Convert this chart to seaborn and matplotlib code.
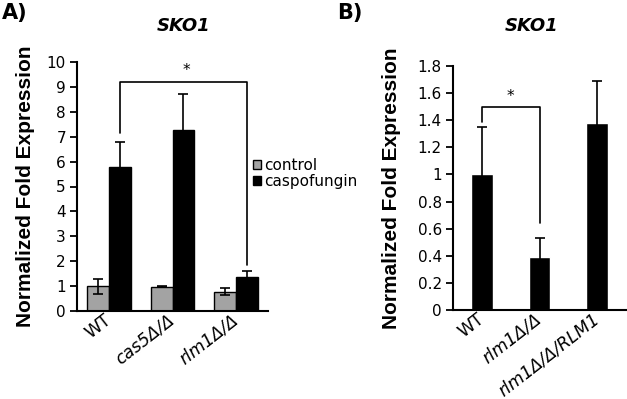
import matplotlib
matplotlib.use("Agg")
import matplotlib.pyplot as plt
import seaborn as sns
import pandas as pd
import numpy as np
from matplotlib.patches import Patch

# panel A data
strains_a = ["WT", "cas5Δ/Δ", "rlm1Δ/Δ"]
conditions = ["control", "caspofungin"]
control_vals = [1.0, 0.97, 0.78]
control_err = [0.30, 0.02, 0.14]
caspo_vals = [5.78, 7.28, 1.35]
caspo_err = [1.0, 1.42, 0.25]

# panel B data
strains_b = ["WT", "rlm1Δ/Δ", "rlm1Δ/Δ/RLM1"]
vals_b = [1.0, 0.39, 1.38]
err_b = [0.35, 0.14, 0.31]

# significance brackets (y values)
brk_a = (7.15, 9.2, 1.85)
brk_b = (1.39, 1.50, 0.64)

sns.set_style("ticks")
plt.rcParams['font.family'] = ['DejaVu Sans']
plt.rcParams['axes.linewidth'] = 1.5
plt.rcParams['axes.edgecolor'] = 'black'
plt.rcParams['xtick.color'] = 'black'
plt.rcParams['ytick.color'] = 'black'
plt.rcParams['text.color'] = 'black'
plt.rcParams['axes.labelcolor'] = 'black'

W, H = 627, 399
fig = plt.figure(figsize=(W / 100, H / 100), dpi=100)

def box(l, t, r, b):
    return [l / W, 1 - b / H, (r - l) / W, (b - t) / H]

axA = fig.add_axes(box(77, 62, 268, 311))
axB = fig.add_axes(box(453, 66, 626, 310))

dfA = pd.DataFrame({
    "strain": strains_a * 2,
    "condition": [conditions[0]] * 3 + [conditions[1]] * 3,
    "value": control_vals + caspo_vals,
})
sns.barplot(data=dfA, x="strain", y="value", hue="condition", order=strains_a,
            hue_order=conditions, palette={"control": "#a3a3a3", "caspofungin": "black"},
            width=0.69, edgecolor="black", linewidth=1, errorbar=None, ax=axA,
            legend=False, saturation=1)

for cont, errs in zip(axA.containers, [control_err, caspo_err]):
    xs = [p.get_x() + p.get_width() / 2 for p in cont]
    hs = [p.get_height() for p in cont]
    axA.errorbar(xs, hs, yerr=errs, fmt="none", ecolor="black", elinewidth=1.2,
                 capsize=3.5, capthick=1.2)

sns.barplot(x=strains_b, y=vals_b, color="black", width=0.38, errorbar=None,
            ax=axB, saturation=1)
xsB = [p.get_x() + p.get_width() / 2 for p in axB.patches]
axB.errorbar(xsB, vals_b, yerr=err_b, fmt="none", ecolor="black", elinewidth=1.2,
             capsize=3.5, capthick=1.2)

# brackets
xa0 = axA.containers[1][0].get_x() + axA.containers[1][0].get_width() / 2
xa1 = axA.containers[1][2].get_x() + axA.containers[1][2].get_width() / 2
axA.plot([xa0, xa0, xa1, xa1], [brk_a[0], brk_a[1], brk_a[1], brk_a[2]],
         color="black", lw=1.2, clip_on=False)
axA.text((xa0 + xa1) / 2 + 0.05, brk_a[1] + 0.15, "*", ha="center", va="bottom",
         fontsize=11)
axB.plot([xsB[0], xsB[0], xsB[1], xsB[1]], [brk_b[0], brk_b[1], brk_b[1], brk_b[2]],
         color="black", lw=1.2, clip_on=False)
axB.text((xsB[0] + xsB[1]) / 2, brk_b[1] + 0.02, "*", ha="center", va="bottom",
         fontsize=11)

for ax, top, step in [(axA, 10, 1), (axB, 1.8, 0.2)]:
    ax.set_ylim(0, top)
    ticks = np.round(np.arange(0, top + step / 2, step), 2)
    ax.set_yticks(ticks)
    ax.set_yticklabels([f"{t:g}" for t in ticks], fontsize=11)
    ax.tick_params(axis="y", direction="out", length=5, width=1.3, pad=3)
    ax.tick_params(axis="x", length=0, pad=5)
    ax.set_xlabel("")
    for s in ["top", "right"]:
        ax.spines[s].set_visible(False)
    for lab in ax.get_xticklabels():
        lab.set_rotation(38)
        lab.set_ha("right")
        lab.set_va("center")
        lab.set_rotation_mode("anchor")
        lab.set_fontsize(12.5)
        if lab.get_text() != "WT":
            lab.set_fontstyle("italic")
    ax.set_ylabel("Normalized Fold Expression", fontsize=15, fontweight="bold",
                  family=["Liberation Sans"])

axA.set_xlim(-0.5, 2.5)
axB.set_xlim(-0.5, 2.5)
axA.yaxis.set_label_coords(-0.22, 0.5)
axB.yaxis.set_label_coords(-0.30, 0.5)

# legend
handles = [Patch(facecolor="#a3a3a3", edgecolor="black", linewidth=1),
           Patch(facecolor="black", edgecolor="black")]
fig.legend(handles, conditions, loc="upper left", bbox_to_anchor=(253 / W, 1 - 158 / H),
           frameon=False, fontsize=11, handlelength=0.5, handleheight=0.5,
           handletextpad=0.2, labelspacing=0.05, borderpad=0, borderaxespad=0)

fig.text(184 / W, 1 - 26 / H, "SKO1", ha="center", va="center", fontsize=13,
         fontweight="bold", fontstyle="italic")
fig.text(532 / W, 1 - 26 / H, "SKO1", ha="center", va="center", fontsize=13,
         fontweight="bold", fontstyle="italic")
fig.text(2 / W, 1 - 3 / H, "A)", ha="left", va="top", fontsize=15, fontweight="bold")
fig.text(337 / W, 1 - 3 / H, "B)", ha="left", va="top", fontsize=15, fontweight="bold")

fig.savefig("out.png", dpi=100)
